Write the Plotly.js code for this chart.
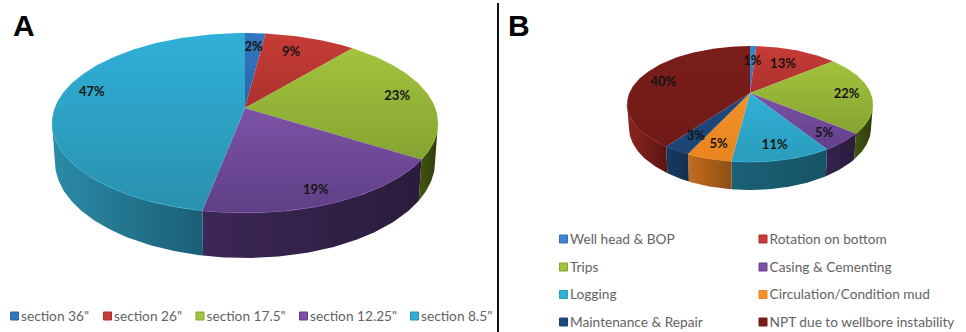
<!DOCTYPE html>
<html>
<head>
<meta charset="utf-8">
<script src="https://cdn.plot.ly/plotly-3.0.1.min.js"></script>
<style>html,body{margin:0;padding:0;background:#fff}#chart{width:966px;height:332px}</style>
</head>
<body>
<div id="chart"></div>
<script>
// Share of time per hole section (panel A)
const sectionNames = ['section 36"', 'section 26"', 'section 17.5"', 'section 12.25"', 'section 8.5"'];
const sectionShares = [2, 9, 23, 19, 47];

// Share of time per operation (panel B)
const operationNames = ['Well head & BOP', 'Rotation on bottom', 'Trips', 'Casing & Cementing',
  'Logging', 'Circulation/Condition mud', 'Maintenance & Repair', 'NPT due to wellbore instability'];
const operationShares = [1, 13, 22, 5, 11, 5, 3, 40];

// Slice palettes: lit top colour, shaded top colour, side colour left, side colour right
const sectionPalette = [
  ['#3277c0', '#2a64a8', '#1f4a7c', '#1f4a7c'],
  ['#c73c36', '#ab312e', '#6e1d1a', '#6e1d1a'],
  ['#a3c33e', '#84a431', '#43560f', '#2f3c0b'],
  ['#7d52a6', '#5f3f86', '#3d2756', '#2a1c3c'],
  ['#2fb0d8', '#2a90ae', '#2b8ba8', '#1b5f75']
];
const operationPalette = [
  ['#3c86d0', '#3070b8', '#1f4a7c', '#1f4a7c'],
  ['#c73c36', '#ab312e', '#6e1d1a', '#6e1d1a'],
  ['#a3c33e', '#84a431', '#43560f', '#2f3c0b'],
  ['#7d52a6', '#623f8a', '#35214e', '#2a1c3c'],
  ['#32b1d6', '#2a9cbd', '#1b6076', '#175467'],
  ['#f39028', '#e9851f', '#c66c1c', '#8c4f16'],
  ['#1d4a7e', '#1b4474', '#173a62', '#14304f'],
  ['#7b1e1a', '#701a17', '#8c2521', '#5a1512']
];

// Projection of each disc: apex position, radii, perspective strength, wall height
const discA = {cx: 245, cy: 108, a: 190.3, b: 87.5, p: 1 / 6, wall: 37.5, shrink: 0.985};
const discB = {cx: 750, cy: 93, a: 120.7, b: 55.9, p: 0.19, wall: 22.7, shrink: 0.985};

// Placement of the percent labels: fraction of the disc radius, turn from the slice middle in degrees
const sectionLabelReach = [0.806, 0.78, 0.834, 0.865, 0.855];
const sectionLabelTurn = [0, -3, -1.5, 1.5, 8];
const operationLabelReach = [0.665, 0.67, 0.80, 0.82, 0.80, 0.795, 0.77, 0.78];
const operationLabelTurn = [0, 0, 0, 0, 0, 0, 0, -1.5];
const labelDrop = 1.5;

const rad = Math.PI / 180;

function topPoint(d, deg, r) {
  const u = r * Math.sin(deg * rad), v = r * Math.cos(deg * rad), w = 1 + d.p * v;
  return [d.cx + d.a * u / w, d.cy - d.b * v / w];
}
function basePoint(d, deg) {
  const v = Math.cos(deg * rad), w = 1 + d.p * v, t = topPoint(d, deg, 1);
  return [d.cx + (t[0] - d.cx) * d.shrink, t[1] + d.wall / w];
}
function arcAngles(from, to) {
  const out = [];
  for (let k = from; k < to; k += 1) out.push(k);
  out.push(to);
  return out;
}
function gradient(type, c0, c1) {
  return {type: type, colorscale: [[0, c0], [1, c1]]};
}

function discTraces(d, shares, palette, reach, turn) {
  const tops = [], walls = [], rims = [], labels = {x: [], y: [], text: []};
  const total = shares.reduce((s, v) => s + v, 0);
  const edgeR = Math.acos(-d.p) / rad, edgeL = 360 - edgeR;
  let run = 0;
  shares.forEach((share, i) => {
    const from = run / total * 360;
    run += share;
    const to = run / total * 360;
    const arc = arcAngles(from, to);
    const rim = arc.map(t => topPoint(d, t, 1));
    tops.push({
      type: 'scatter', mode: 'lines', hoverinfo: 'skip', showlegend: false,
      x: [d.cx, ...rim.map(q => q[0]), d.cx],
      y: [d.cy, ...rim.map(q => q[1]), d.cy],
      line: {width: 0}, fill: 'toself', fillcolor: palette[i][0],
      fillgradient: gradient('vertical', palette[i][1], palette[i][0])
    });
    // Only the part of the rim facing the viewer shows a wall
    const wFrom = Math.max(from, edgeR), wTo = Math.min(to, edgeL);
    if (wTo > wFrom) {
      const wallArc = arcAngles(wFrom, wTo);
      const upper = wallArc.map(t => topPoint(d, t, 1));
      const lower = wallArc.map(t => basePoint(d, t)).reverse();
      const pts = upper.concat(lower);
      pts.push(upper[0]);
      walls.push({
        type: 'scatter', mode: 'lines', hoverinfo: 'skip', showlegend: false,
        x: pts.map(q => q[0]), y: pts.map(q => q[1]),
        line: {width: 0}, fill: 'toself', fillcolor: palette[i][3],
        fillgradient: gradient('horizontal', palette[i][2], palette[i][3])
      });
      // Thin highlight where the top face meets the wall
      rims.push({
        type: 'scatter', mode: 'lines', hoverinfo: 'skip', showlegend: false,
        x: upper.map(q => q[0]), y: upper.map(q => q[1]),
        line: {width: 1, color: palette[i][0]}, opacity: 0.6
      });
    }
    const mid = (from + to) / 2 + turn[i], at = topPoint(d, mid, reach[i]);
    labels.x.push(at[0]);
    labels.y.push(at[1] + labelDrop);
    labels.text.push(share + '%');
  });
  const labelTrace = {
    type: 'scatter', mode: 'text', hoverinfo: 'skip', showlegend: false,
    x: labels.x, y: labels.y, text: labels.text, textposition: 'middle center',
    textfont: {family: 'Lato', size: 13, weight: 700, color: '#141414'}
  };
  return walls.concat(tops, rims, [labelTrace]);
}

// Key entries: a square swatch, with its name set just to the right and slightly lower
const keyTextGap = 6.5, keyTextDrop = 1.2;
function keyTraces(names, palette, xs, ys) {
  return [{
    type: 'scatter', mode: 'markers', hoverinfo: 'skip', showlegend: false,
    x: xs, y: ys,
    marker: {symbol: 'square', size: 8, color: names.map((_, i) => palette[i][0]),
      line: {width: 1, color: names.map((_, i) => palette[i][1])}}
  }, {
    type: 'scatter', mode: 'text', hoverinfo: 'skip', showlegend: false,
    x: xs.map(v => v + keyTextGap), y: ys.map(v => v + keyTextDrop), text: names,
    textposition: 'middle right',
    textfont: {family: 'Lato', size: 13.7, color: '#636363'}
  }];
}

const sectionKeyX = [14.5, 107.5, 200, 303.5, 414.5];
const sectionKeyY = sectionNames.map(() => 316);
const operationKeyX = operationNames.map((_, i) => i % 2 ? 763 : 563.5);
const operationKeyY = operationNames.map((_, i) => [239, 267, 294.5, 322][Math.floor(i / 2)]);

const traces = [
  ...discTraces(discA, sectionShares, sectionPalette, sectionLabelReach, sectionLabelTurn),
  ...discTraces(discB, operationShares, operationPalette, operationLabelReach, operationLabelTurn),
  ...keyTraces(sectionNames, sectionPalette, sectionKeyX, sectionKeyY),
  ...keyTraces(operationNames, operationPalette, operationKeyX, operationKeyY)
];

const hidden = {visible: false, fixedrange: true};
const layout = {
  width: 966, height: 332,
  margin: {l: 0, r: 0, t: 0, b: 0},
  paper_bgcolor: '#ffffff', plot_bgcolor: '#ffffff',
  showlegend: false,
  xaxis: Object.assign({range: [0, 966]}, hidden),
  yaxis: Object.assign({range: [332, 0]}, hidden),
  shapes: [{type: 'line', xref: 'x', yref: 'y', x0: 498, x1: 498, y0: 3, y1: 332,
    line: {color: '#111111', width: 2}}],
  annotations: [
    {text: '<b>A</b>', x: 24, y: 25, xref: 'x', yref: 'y', showarrow: false,
      font: {family: 'Liberation Sans', size: 30, color: '#000'}},
    {text: '<b>B</b>', x: 519, y: 25, xref: 'x', yref: 'y', showarrow: false,
      font: {family: 'Liberation Sans', size: 30, color: '#000'}}
  ]
};

Plotly.newPlot('chart', traces, layout, {displayModeBar: false, staticPlot: true});
</script>
</body>
</html>
